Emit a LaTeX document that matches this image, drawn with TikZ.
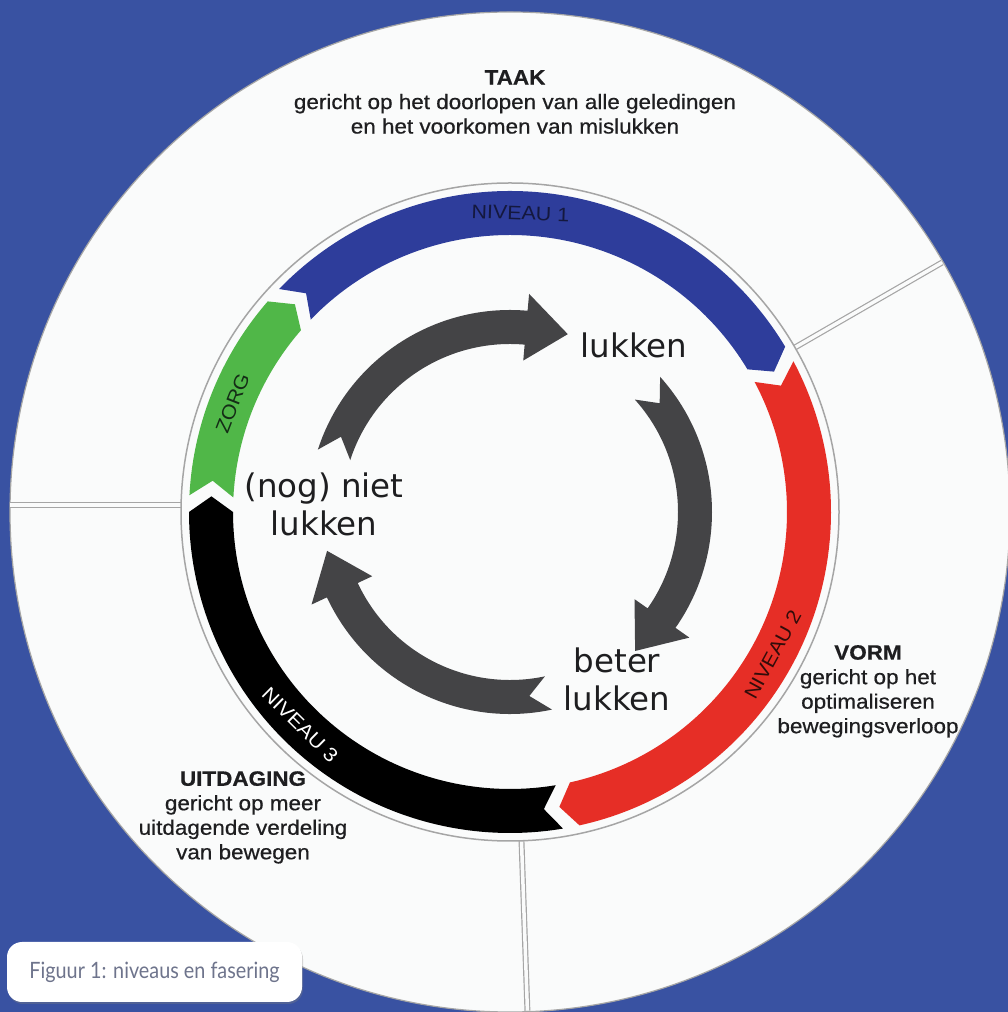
\documentclass[tikz,border=0pt]{standalone}
\usepackage{fontspec}
\setmainfont{Liberation Sans}[FakeStretch=1.1]
\newfontfamily\sidefont{Liberation Sans}[FakeStretch=1.08, FakeBold=0.6]
\newfontfamily\cyclefont{DejaVu Sans}
\newfontfamily\figcapfont{Lato}[FakeStretch=0.88]
\usetikzlibrary{shadows}

\definecolor{bgblue}{RGB}{57,82,162}
\definecolor{paper}{RGB}{250,251,251}
\definecolor{linegray}{RGB}{165,165,165}
\definecolor{ringblue}{RGB}{46,61,155}
\definecolor{ringred}{RGB}{230,46,38}
\definecolor{ringgreen}{RGB}{80,183,72}
\definecolor{arrowgray}{RGB}{68,68,70}
\definecolor{textdark}{RGB}{30,30,32}
\definecolor{niv1text}{RGB}{20,24,62}
\definecolor{zorgtext}{RGB}{20,45,22}
\definecolor{niv2text}{RGB}{50,12,10}
\definecolor{captiongray}{RGB}{110,116,140}

\begin{document}
\begin{tikzpicture}[
  x=1pt, y=1pt,
  every node/.style={inner sep=0pt},
  ringlabel/.style={font=\fontsize{19.5}{19.5}\selectfont},
  sidetext/.style={align=center, text=textdark, font=\sidefont\fontsize{20.8}{24.5}\selectfont},
  cycletext/.style={align=center, text=textdark, font=\cyclefont\fontsize{32.5}{38}\selectfont},
  divider/.style={draw=linegray, line width=1.2pt, double=paper, double distance=3.5pt},
  captionbox/.style={fill=white, rounded corners=15pt, minimum width=295pt, minimum height=60pt,
    drop shadow={shadow xshift=1pt, shadow yshift=-2pt, opacity=0.35},
    text=captiongray, font=\figcapfont\fontsize{22.5}{22.5}\selectfont}
]
\clip (0,0) rectangle (1008,1012);
\fill[bgblue] (0,0) rectangle (1008,1012);
\coordinate (C) at (510,500);
\filldraw[fill=paper, draw=linegray, line width=1.2pt] (C) circle[radius=500pt];

\begin{scope}[shift={(C)}]
% the three sectors of the outer ring
\draw[divider] (30:329) -- (30:499);
\draw[divider] (-328.9,7) -- (-499.8,7);
\draw[divider] (-88:329) -- (-88:499);
\draw[linegray, line width=1.5pt] (0,0) circle[radius=329pt];

% levels ring
\fill[ringblue] (136:321) arc[start angle=136, end angle=31, radius=321pt] -- (28:299) -- (31:277)
  arc[start angle=31, end angle=136, radius=277pt] -- (133:299) -- cycle;
\fill[ringred] (28:321) arc[start angle=28, end angle=-77.5, radius=321pt] -- (-80.5:299) -- (-77.5:277)
  arc[start angle=-77.5, end angle=28, radius=277pt] -- (25:299) -- cycle;
\fill[black] (-80.5:321) arc[start angle=-80.5, end angle=-180, radius=321pt] -- (-183:299) -- (-180:277)
  arc[start angle=-180, end angle=-80.5, radius=277pt] -- (-83.5:299) -- cycle;
\fill[ringgreen] (177:321) arc[start angle=177, end angle=139, radius=321pt] -- (136:299) -- (139:277)
  arc[start angle=139, end angle=177, radius=277pt] -- (174:299) -- cycle;

\node[ringlabel, rotate=-2, text=niv1text] (niveau1) at (88:299) {NIVEAU 1};
\node[ringlabel, rotate=68.6, text=zorgtext] (zorg) at (158.6:298) {ZORG};
\node[ringlabel, rotate=61.5, text=niv2text] (niveau2) at (-28.5:299) {NIVEAU 2};
\node[ringlabel, rotate=-44.6, text=white] (niveau3) at (-134.6:299) {NIVEAU 3};

% inner cycle
\fill[arrowgray] (162:202) arc[start angle=162, end angle=85, radius=202pt] -- (85:219) -- (72:187) -- (85:152) -- (85:168)
  arc[start angle=85, end angle=162, radius=168pt] -- (156:185) -- cycle;
\fill[arrowgray] (42:202) arc[start angle=42, end angle=-35, radius=202pt] -- (-35:219) -- (-48:187) -- (-35:152) -- (-35:168)
  arc[start angle=-35, end angle=42, radius=168pt] -- (36:185) -- cycle;
\fill[arrowgray] (-78:202) arc[start angle=-78, end angle=-155, radius=202pt] -- (-155:219) -- (-168:187) -- (-155:152) -- (-155:168)
  arc[start angle=-155, end angle=-78, radius=168pt] -- (-84:185) -- cycle;
\end{scope}

\node[cycletext] (lukken) at (634,667) {lukken};
\node[cycletext] (nietlukken) at (324,508) {(nog) niet\\lukken};
\node[cycletext] (beterlukken) at (617,333) {beter\\lukken};

\node[sidetext] (taak) at (515,910) {\textbf{TAAK}\\gericht op het doorlopen van alle geledingen\\en het voorkomen van mislukken};
\node[sidetext] (vorm) at (868,320.7) {\textbf{VORM}\\gericht op het\\optimaliseren\\bewegingsverloop};
\node[sidetext] (uitdaging) at (243,194.6) {\textbf{UITDAGING}\\gericht op meer\\uitdagende verdeling\\van bewegen};

\node[captionbox] (figuur) at (154.5,40) {Figuur 1: niveaus en fasering};
\end{tikzpicture}
\end{document}
